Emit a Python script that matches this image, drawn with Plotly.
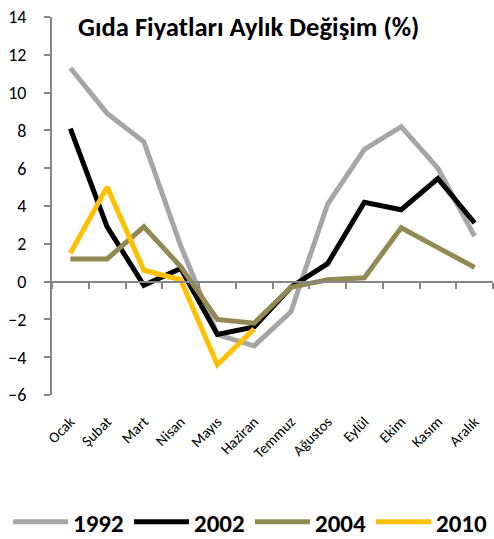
import plotly.graph_objects as go

months = ["Ocak", "Şubat", "Mart", "Nisan", "Mayıs", "Haziran", "Temmuz",
          "Ağustos", "Eylül", "Ekim", "Kasım", "Aralık"]
y1992 = [11.3, 8.9, 7.4, 1.9, -2.8, -3.4, -1.6, 4.1, 7.0, 8.2, 6.0, 2.4]
y2002 = [8.1, 2.9, -0.2, 0.7, -2.8, -2.4, -0.3, 0.95, 4.2, 3.8, 5.45, 3.1]
y2004 = [1.2, 1.2, 2.9, 0.8, -2.0, -2.2, -0.3, 0.1, 0.2, 2.85, 1.8, 0.75]
y2010 = [1.5, 5.0, 0.6, 0.1, -4.4, -2.5, None, None, None, None, None, None]
yticks = [-6, -4, -2, 0, 2, 4, 6, 8, 10, 12, 14]

series = [("1992", y1992, "#A6A6A6"), ("2002", y2002, "#000000"),
          ("2004", y2004, "#938953"), ("2010", y2010, "#FFC000")]

FONT = "Carlito, Lato, Calibri, sans-serif"
W, H = 494, 539
ML, MR, MT, MB = 52, 1, 17, 144
PW, PH = W - ML - MR, H - MT - MB

fig = go.Figure()
for name, vals, col in series:
    fig.add_trace(go.Scatter(x=months, y=vals, name=name, mode="lines",
                             line=dict(color=col, width=5), connectgaps=False))

# invisible trace to materialize the zero-crossing category axis
fig.add_trace(go.Scatter(x=months, y=[None] * 12, xaxis="x2", showlegend=False,
                         hoverinfo="skip", mode="lines"))

lo, hi = yticks[0], yticks[-1]
fig.update_layout(
    width=W, height=H,
    margin=dict(l=ML, r=MR, t=MT, b=MB, autoexpand=False),
    plot_bgcolor="white", paper_bgcolor="white",
    font=dict(family=FONT, size=16, color="#000000"),
    title=dict(text="<b>Gıda Fiyatları Aylık Değişim (%)</b>",
               font=dict(family=FONT, size=26.6, color="#000000"),
               xref="container", x=78 / W, xanchor="left",
               yref="container", y=1 - 27 / H, yanchor="middle"),
    xaxis=dict(type="category", categoryorder="array", categoryarray=months,
               range=[-0.5, 11.5], showline=False, ticks="", showgrid=False,
               tickangle=-45, tickfont=dict(size=15), zeroline=False,
               automargin=False, ticklabelstandoff=14),
    xaxis2=dict(type="category", categoryorder="array", categoryarray=months,
                range=[-0.5, 11.5], overlaying="x", anchor="free",
                position=(0 - lo) / (hi - lo), side="bottom",
                showline=True, linecolor="#868686", linewidth=2,
                ticks="outside", ticklen=6, tickcolor="#868686", tickwidth=2,
                tickson="boundaries", showticklabels=False, showgrid=False,
                automargin=False),
    yaxis=dict(range=[lo, hi], tickvals=yticks, showgrid=False, zeroline=False,
               showline=True, linecolor="#868686", linewidth=2,
               ticks="outside", ticklen=6, tickcolor="#868686", tickwidth=2,
               tickfont=dict(size=18), ticklabelstandoff=14, automargin=False),
    legend=dict(orientation="h", xref="paper", x=(8 - ML) / PW, xanchor="left",
                yref="paper", y=(H - MB - 522) / PH, yanchor="middle",
                font=dict(family=FONT, size=25, color="#000000", weight="bold"),
                itemwidth=55, entrywidth=51, entrywidthmode="pixels",
                tracegroupgap=0),
)

fig.write_html("out.html", config={"displayModeBar": False},
               post_script="document.body.style.margin='0';"
                           "document.body.style.padding='0';")
